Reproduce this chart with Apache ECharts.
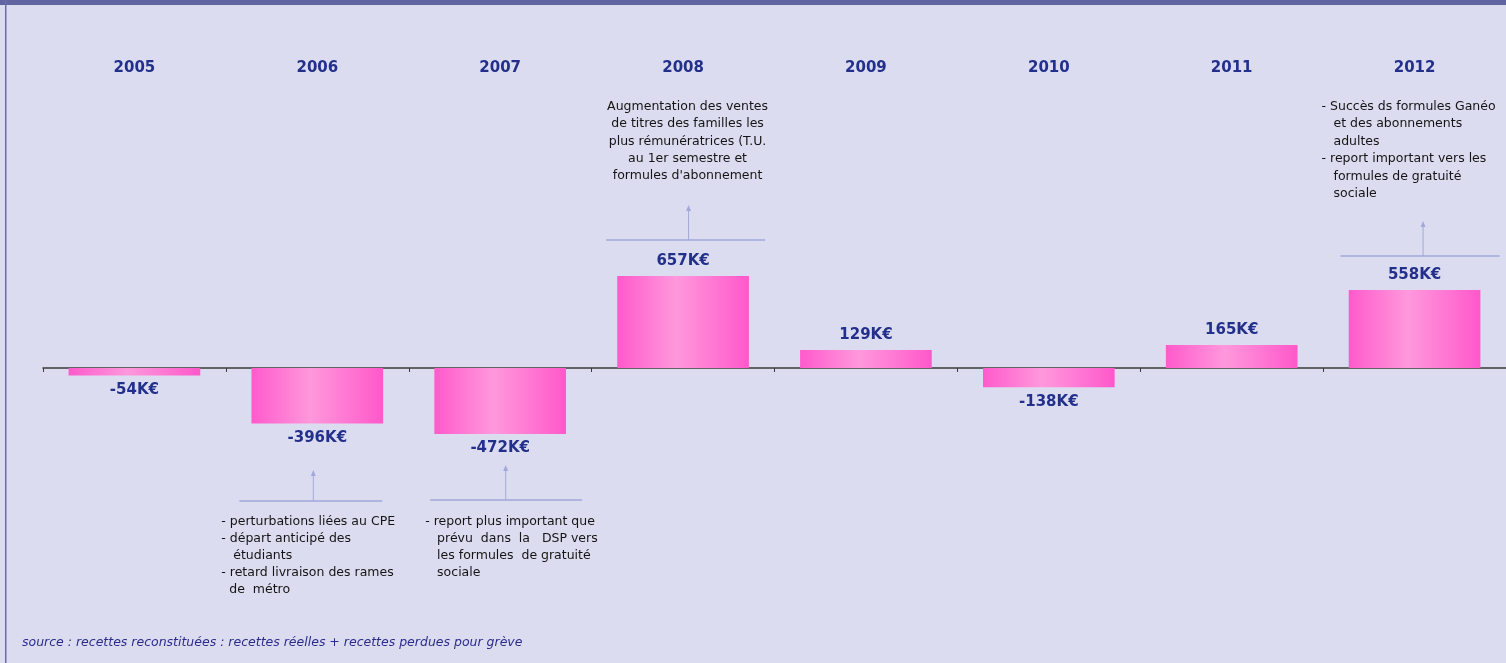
<!DOCTYPE html>
<html>
<head>
<meta charset="utf-8">
<script src="https://cdn.jsdelivr.net/npm/echarts@6/dist/echarts.min.js"></script>
<style>
  html, body { margin: 0; padding: 0; background: #dcdcf0; }
  #main { width: 1506px; height: 663px; }
</style>
</head>
<body>
<div id="main"></div>
<script>
// données
var years = ['2005', '2006', '2007', '2008', '2009', '2010', '2011', '2012'];
var values = [-54, -396, -472, 657, 129, -138, 165, 558];

var note2006 = ['- perturbations liées au CPE', '- départ anticipé des', '   étudiants', '- retard livraison des rames', '  de  métro'];
var note2007 = ['- report plus important que', '   prévu  dans  la   DSP vers', '   les formules  de gratuité', '   sociale'];
var note2008 = ['Augmentation des ventes', 'de titres des familles les', 'plus rémunératrices (T.U.', 'au 1er semestre et', 'formules d\'abonnement'];
var note2012 = ['- Succès ds formules Ganéo', '   et des abonnements', '   adultes', '- report important vers les', '   formules de gratuité', '   sociale'];

var sourceText = 'source : recettes reconstituées : recettes réelles + recettes perdues pour grève';

var myChart = echarts.init(document.getElementById('main'));

var barColor = new echarts.graphic.LinearGradient(0, 0, 1, 0, [
  { offset: 0, color: '#ff5acb' },
  { offset: 0.45, color: '#ff98dc' },
  { offset: 1, color: '#ff58ca' }
]);

var barData = values.map(function (v) {
  return {
    value: v,
    label: { position: v >= 0 ? 'top' : 'bottom' }
  };
});

myChart.setOption({
  backgroundColor: '#dcdcf0',
  animation: false,
  grid: { left: 43, right: 0, top: 228, bottom: 155 },
  xAxis: [
    {
      type: 'category',
      data: years,
      axisLine: { onZero: true, lineStyle: { color: '#3a3a3a', width: 1.5 } },
      axisTick: { show: true, length: 4, lineStyle: { color: '#3a3a3a' } },
      axisLabel: { show: false }
    },
    {
      type: 'category',
      data: years,
      position: 'top',
      axisLine: { show: false, onZero: false },
      axisTick: { show: false },
      axisLabel: {
        margin: 152,
        color: '#22308c',
        fontFamily: 'DejaVu Sans',
        fontWeight: 'bold',
        fontSize: 15
      }
    }
  ],
  yAxis: {
    type: 'value',
    min: -1000,
    max: 1000,
    show: false,
    splitLine: { show: false }
  },
  series: [
    {
      type: 'bar',
      data: barData,
      barWidth: '72%',
      itemStyle: { color: barColor },
      label: {
        show: true,
        distance: 7,
        color: '#22308c',
        fontFamily: 'DejaVu Sans',
        fontWeight: 'bold',
        fontSize: 15,
        formatter: function (p) { return p.value + 'K€'; }
      }
    }
  ]
});

// annotations
function cx(year) {
  return myChart.convertToPixel({ xAxisIndex: 0 }, year);
}

var lineColor = '#a2a9da';
var textFont = '12.5px "DejaVu Sans"';

function annotation(year, o, lines) {
  var c = cx(year);
  var ax = c + o.arrowDx;
  var els = [
    { type: 'line', shape: { x1: c + o.x1, y1: o.lineY, x2: c + o.x2, y2: o.lineY }, style: { stroke: lineColor, lineWidth: 1.5 } },
    { type: 'line', shape: { x1: ax, y1: o.lineY, x2: ax, y2: o.arrowTop + 4 }, style: { stroke: lineColor, lineWidth: 1 } },
    { type: 'polygon', shape: { points: [[ax, o.arrowTop], [ax - 2.5, o.arrowTop + 6], [ax + 2.5, o.arrowTop + 6]] }, style: { fill: lineColor } },
    {
      type: 'text',
      x: c + o.textDx,
      y: o.textTop,
      style: {
        text: lines.join('\n'),
        font: textFont,
        fill: '#141414',
        lineHeight: o.lh,
        align: o.align,
        verticalAlign: 'top'
      }
    }
  ];
  return els;
}

var g = [];
g.push({ type: 'rect', shape: { x: 0, y: 0, width: 1506, height: 5 }, style: { fill: '#6064a0' } });
g.push({ type: 'rect', shape: { x: 5, y: 0, width: 1.5, height: 663 }, style: { fill: '#6a6ca8' } });
g = g.concat(annotation('2006', { x1: -78, x2: 65, lineY: 501, arrowDx: -4, arrowTop: 470, textDx: -96, textTop: 513, lh: 17, align: 'left' }, note2006));
g = g.concat(annotation('2007', { x1: -70, x2: 82, lineY: 500, arrowDx: 5.5, arrowTop: 465, textDx: -75, textTop: 513, lh: 17, align: 'left' }, note2007));
g = g.concat(annotation('2008', { x1: -77, x2: 82, lineY: 240, arrowDx: 5.5, arrowTop: 205, textDx: 4.5, textTop: 98, lh: 17.3, align: 'center' }, note2008));
g = g.concat(annotation('2012', { x1: -74, x2: 85, lineY: 256, arrowDx: 8.5, arrowTop: 221, textDx: -93, textTop: 98, lh: 17.4, align: 'left' }, note2012));
g.push({
  type: 'text',
  x: 22,
  y: 643,
  style: {
    text: sourceText,
    font: 'italic 12.5px "DejaVu Sans"',
    fill: '#2b2b8c',
    verticalAlign: 'middle'
  }
});

myChart.setOption({ graphic: g });
</script>
</body>
</html>
